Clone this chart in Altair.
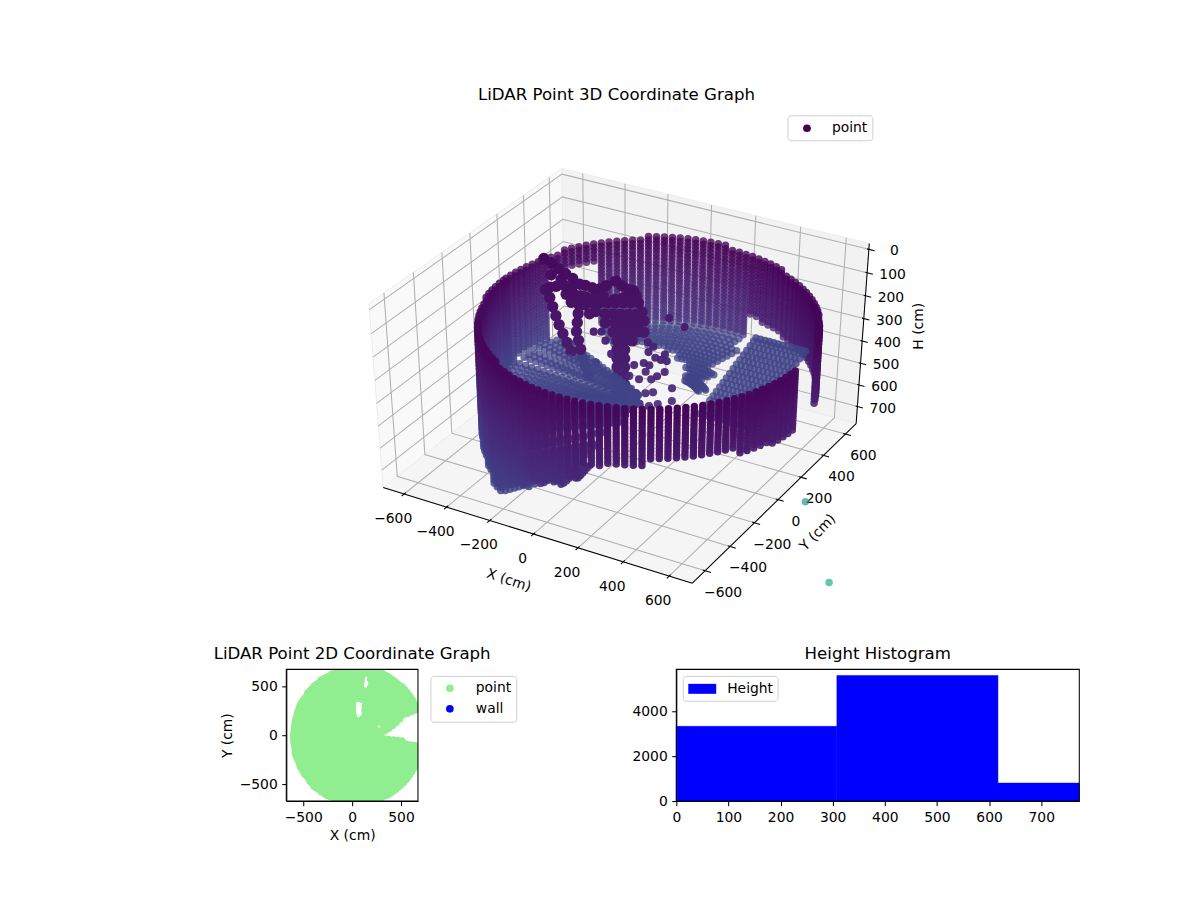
import altair as alt
import numpy as np
import pandas as pd

alt.data_transformers.disable_max_rows()

FONT = "DejaVu Sans"

# axis limits of the 3D box
x_limits = [-700, 700]
y_limits = [-700, 700]
h_limits = [-25, 780]
x_ticks = [-600, -400, -200, 0, 200, 400, 600]
y_ticks = [-600, -400, -200, 0, 200, 400, 600]
h_ticks = [0, 100, 200, 300, 400, 500, 600, 700]

# scan columns (degrees)
scan_azimuth = [
    -180, -177.2, -174.4, -171.6, -168.8, -166, -163.2, -160.4, -157.6, -154.8, -152, -149.2, -146.4, -143.6, -140.8, -138,
    -135.2, -132.4, -129.6, -126.8, -124, -121.2, -118.4, -115.6, -112.8, -110, -107.2, -104.4, -101.6, -98.8, -96, -93.2,
    -90.4, -87.6, -84.8, -82, -79.2, -76.4, -73.6, -70.8, -68, -65.2, -62.4, -59.6, -56.8, -54, -51.2, -48.4,
    -45.6, -42.8, -40, -37.2, -34.4, -31.6, -28.8, -26, -23.2, -20.4, -17.6, -14.8, -12, -9.2, -6.4, -3.6,
    -0.8, 2, 4.8, 7.6, 10.4, 13.2, 16, 18.8, 21.6, 24.4, 27.2, 30, 32.8, 35.6, 38.4, 41.2,
    44, 46.8, 49.6, 52.4, 55.2, 58, 60.8, 63.6, 66.4, 69.2, 72, 74.8, 77.6, 80.4, 83.2, 86,
    88.8, 91.6, 94.4, 97.2, 100, 102.8, 105.6, 108.4, 111.2, 114, 116.8, 119.6, 122.4, 125.2, 128, 130.8,
    133.6, 136.4, 139.2, 142, 144.8, 147.6, 150.4, 153.2, 156, 158.8, 161.6, 164.4, 167.2, 170, 172.8, 175.6, 178.4,
]
wall_rows = [120, 135, 150, 165, 180, 195, 210, 225, 240, 255, 270, 285, 300, 315, 330, 345, 360, 375, 390, 405, 420, 435, 450,
             465, 480, 495, 510, 525, 540, 555, 570, 585, 600, 615, 630, 645, 660, 675, 690, 705, 720, 735, 750, 765]
floor_radii = [630, 600, 570, 540, 510, 480, 450, 420, 390, 360, 330, 300, 270, 240, 210, 180, 150, 120, 90, 60]
apron_radii = [640, 620, 600, 580, 560, 540]

# the room: a round wall around this point
room_x = 100
room_y = 15
room_r = 660

# one row per sector of the ring, -1 means nothing was scanned there
sector_end = [-165, -150, -142, -135, -128, -120, -113, -105, -98, -90, -83, -75, -60, -45, -30, -15, -2, 16, 30, 45, 64, 75, 83, 90,
              100, 110, 120, 130, 137, 153, 158, 165, 175, 180]
wall_top = [150, 155, 158, 160, 163, 165, 168, 170, 172, 175, 177, 178, 180, 180, 180, 175, 170, -1, 160, 150, 140, 130, 127, 125,
            120, 120, 120, 125, 130, 135, 140, 145, 145, 150]
wall_bottom = [600, 620, 630, 660, 700, 740, 680, 630, 590, 560, 520, 440, 425, 400, 400, 420, 440, -1, 460, 426, 426, 417, 400, 500,
               500, 500, 500, 500, 500, 220, 200, 510, 520, 540]
apron = [0, 0, 1, 1, 1, 1, 1, 1, 1, 1, 1, 0, 0, 0, 0, 0, 0, 0, 0, 0, 0, 0, 0, 0,
         0, 0, 0, 0, 0, 0, 0, 0, 0, 0]
floor_height = [545, 555, 570, 590, 620, 650, 660, 650, 560, 500, -1, -1, -1, -1, -1, -1, -1, -1, -1, -1, 500, 500, 500, 500,
                500, 500, 500, 500, 500, -1, 510, 510, 520, 535]
floor_outer = [630, 630, 630, 630, 630, 630, 630, 630, 630, 630, -1, -1, -1, -1, -1, -1, -1, -1, -1, -1, 240, 330, 560, 630,
               630, 630, 630, 630, 630, -1, 630, 630, 630, 630]
floor_inner = [60, 60, 90, 120, 180, 240, 300, 360, 420, 480, -1, -1, -1, -1, -1, -1, -1, -1, -1, -1, 200, 210, 240, 300,
               360, 410, 450, 470, 470, -1, 100, 60, 60, 60]
shade_rate = [0.0005, 0.00045, 0.0004, 0.00037, 0.00034, 0.00032, 0.00032, 0.00032, 0.0003, 0.0003, 0.00027, 0.00025, 0.00024, 0.00024, 0.00024, 0.00024, 0.00024, 0, 0.00026, 0.0003, 0.0003, 0.0003, 0.0003, 0.0004,
              0.0004, 0.0004, 0.0004, 0.00042, 0.00045, 0.00045, 0.0005, 0.0005, 0.0005, 0.0005]
plan_radius = [600, 610, 620, 628, 640, 650, 660, 668, 675, 682, 690, 695, 705, 712, 715, 716, 716, 714, 715, 712, 703, 695, 690, 682,
               672, 660, 648, 635, 628, 615, 605, 600, 597, 596]
plan_rings = [20, 65, 110, 155, 200, 245, 290, 335, 380, 425, 470, 515, 560, 605, 650, 695]
notch_ring = [335, 380, 425, 470, 515, 560, 605, 650, 695, 720]
notch_low = [-5, -6, -6, -6, -6, -7, -7, -7, -7, -7]
notch_up = [6, 10, 13, 15, 17, 19, 20, 20, 20, 20]
hole_x = [68, 140, 275]
hole_y = [265, 540, 85]
hole_rx = [60, 44, 40]
hole_ry = [110, 70, 40]

# sloped patch on the right of the floor
ramp_along = [0, 0.06, 0.12, 0.18, 0.24, 0.3, 0.36, 0.42, 0.48, 0.54, 0.6, 0.66, 0.72, 0.78, 0.84, 0.9, 0.96, 1]
ramp_across = [0, 20, 40, 60, 80, 100, 120, 140, 160, 180, 200, 220]

# things standing in the room: position along a plane and height
object_t = [-359, -328, -300, -273, -246, -218, -250, -281, -312, -339, -355, -195, -168, -140, -113, -125, -156,
            -339, -328, -316, -304, -289, -273, -257,
            -215, -222, -226, -230, -234, -226, -218, -211, -199, -187,
            -74, -51, -27, -4, -16, 8, -47, -78,
            -172, -140, -109, -78, -47, -16, 16,
            -117, -86, -55, -23, 8, -156, 31,
            -117, -78, -47, -16, 16, 39,
            -86, -55, -23, 8, 39,
            -70, -39, -8,
            -70, -39, -70, -39, -70, -39, -70, -39, -70, -39, -70, -39, -70, -39, -70, -39,
            -331, -292, -253, -273, -234, -195, -253, -200, -156, -180]
object_h = [15, 35, 60, 80, 100, 125, 140, 130, 135, 140, 150, 130, 140, 145, 130, 175, 175,
            185, 225, 265, 305, 345, 385, 425,
            175, 215, 255, 295, 335, 375, 415, 455, 495, 535,
            110, 130, 145, 150, 180, 175, 185, 190,
            205, 205, 205, 205, 205, 205, 205,
            255, 255, 255, 255, 255, 245, 245,
            295, 295, 295, 295, 295, 285,
            335, 335, 335, 335, 335,
            375, 375, 375,
            415, 415, 455, 455, 495, 495, 535, 535, 575, 575, 615, 615, 655, 655, 695, 695,
            85, 105, 160, 170, 175, 180, 205, 215, 205, 255]
stray_t = [140, 203, 55, 78, 58, 86, 39, 62, 109, 125, 133, 0, -20, 20, 47, 70, 94, 125, 156, 156, 78, 47, 8, 23, 62, 98,
           -156, -164, -133, -117, -94]
stray_h = [270, 310, 380, 400, 425, 450, 475, 485, 460, 435, 465, 485, 535, 550, 515, 550, 535, 515, 590, 650, 610, 615,
           615, 665, 675, 665, 475, 335, 335, 375, 435]

# far away returns
far_x = [413, 804, 1146]
far_y = [277, 32, -446]
far_h = [775, 775, 775]
far_shade = [0.42, 0.52, 0.6]

# histogram
bin_start = [0, 308, 617]
bin_end = [308, 617, 773]
bin_count = [3330, 5600, 800]

# where the box corners sit on the page, to fit the projection
anchor_xyh = [(-700, -700, 780), (700, -700, 780), (700, 700, 780), (-700, 700, -25), (700, 700, -25), (-700, -700, -25)]
anchor_px = [378, 692, 857, 561, 866, 369]
anchor_py = [486, 587, 418, 168, 242, 308]


def view_coords(x, y, h):
    box = np.array([1.307, 1.307, 0.98])
    p = np.stack([
        (np.asarray(x, float) - x_limits[0]) / (x_limits[1] - x_limits[0]) * box[0],
        (np.asarray(y, float) - y_limits[0]) / (y_limits[1] - y_limits[0]) * box[1],
        (h_limits[1] - np.asarray(h, float)) / (h_limits[1] - h_limits[0]) * box[2],
    ], axis=-1)
    el, az = np.radians(35), np.radians(-60)
    n = np.array([np.cos(el) * np.cos(az), np.cos(el) * np.sin(az), np.sin(el)])
    eye = box / 2 + 10 * n
    u = np.cross([0, 0, 1], n)
    u = u / np.linalg.norm(u)
    v = np.cross(n, u)
    d = p - eye
    w = -(d @ n)
    return d @ u / w, d @ v / w, w


ax_u, ax_v, _ = view_coords(*zip(*anchor_xyh))
fit_x = np.polyfit(ax_u, anchor_px, 1)
fit_y = np.polyfit(ax_v, anchor_py, 1)


def project(x, y, h):
    u, v, w = view_coords(x, y, h)
    return np.polyval(fit_x, u), np.polyval(fit_y, v), w


def frame(xs, ys, hs, **cols):
    px, py, w = project(xs, ys, hs)
    return pd.DataFrame({"px": px, "py": py, "w": w, **cols})


# collect the scan
xs, ys, hs, shade, alpha_add, dot = [], [], [], [], [], []
plan_x, plan_y = [], []


def add(x, y, h, sh, extra=0, size=56):
    xs.append(x)
    ys.append(y)
    hs.append(h)
    shade.append(sh)
    alpha_add.append(extra)
    dot.append(size)


for az in scan_azimuth:
    k = next(i for i, e in enumerate(sector_end) if az <= e)
    a = np.radians(az)
    c, s = np.cos(a), np.sin(a)
    if wall_top[k] > 0:
        for h in wall_rows:
            if wall_top[k] <= h <= wall_bottom[k]:
                add(room_x + room_r * c, room_y + room_r * s, h, (h - 120) * shade_rate[k])
    if apron[k]:
        for r in apron_radii:
            add(room_x + r * c, room_y + r * s, wall_bottom[k], (wall_bottom[k] - 120) * shade_rate[k])
    if floor_outer[k] > 0:
        for r in floor_radii:
            if floor_inner[k] <= r <= floor_outer[k]:
                add(room_x + r * c, room_y + r * s, floor_height[k], 0.2)
    # the plan view has its own outline
    for r in plan_rings + [plan_radius[k]]:
        if r > plan_radius[k]:
            continue
        j = next((i for i, n in enumerate(notch_ring) if r <= n), None)
        if r >= notch_ring[0] and j is not None and notch_low[j] < az < notch_up[j]:
            continue
        px_, py_ = r * c, r * s
        if any(((px_ - hx) / rx) ** 2 + ((py_ - hy) / ry) ** 2 < 1
               for hx, hy, rx, ry in zip(hole_x, hole_y, hole_rx, hole_ry)):
            continue
        plan_x.append(px_)
        plan_y.append(py_)

for a_ in ramp_along:
    for c_ in ramp_across:
        add(168 + 202 * a_ + c_, 328 + 79 * a_, 702 - 362 * a_, 0.2)

for t, h in zip(object_t, object_h):
    add(t * 0.877 - 134, t * 0.48 + 314, h + 68, 0.02 + h * 0.00012, 0.3, 130)
for t, h in zip(stray_t, stray_h):
    add(t * 0.877 - 134, t * 0.48 + 314, h + 68, 0.04 + h * 0.00012, 0.2, 66)
for x, y, h, sh in zip(far_x, far_y, far_h, far_shade):
    add(x, y, h, sh)

points = frame(xs, ys, hs, shade=shade, extra=alpha_add, dot=dot)
near, far = points["w"].min(), points["w"].max()
points["alpha"] = (0.7 + 0.3 * (far - points["w"]) / (far - near) + points["extra"]).clip(upper=1)
points.loc[points["shade"] > 0.3, "alpha"] = 0.68
points = points.sort_values("w", ascending=False)

TOP_H = 638
X_PAGE = alt.X("px:Q", scale=alt.Scale(domain=[8, 1192]), axis=None)
Y_PAGE = alt.Y("py:Q", scale=alt.Scale(domain=[8 + TOP_H, 8]), axis=None)

xa, xb = x_limits
ya, yb = y_limits
top, bot = h_limits[0], h_limits[1]

panes = [
    ([xa, xa, xa, xa], [ya, yb, yb, ya], [bot, bot, top, top], "#f9f9f9"),
    ([xa, xb, xb, xa], [yb, yb, yb, yb], [bot, bot, top, top], "#f2f2f2"),
    ([xa, xb, xb, xa], [ya, ya, yb, yb], [bot, bot, bot, bot], "#f5f5f5"),
]
layers = []
for pane_x, pane_y, pane_h, pane_fill in panes:
    d = frame(pane_x, pane_y, pane_h, i=[0, 1, 2, 3])
    layers.append(alt.Chart(d).mark_line(interpolate="linear-closed", fill=pane_fill, stroke="#ececec", strokeWidth=1)
                  .encode(x=X_PAGE, y=Y_PAGE, order="i:Q"))

grid_rows = []
for t in x_ticks:
    grid_rows.append(frame([t, t, t], [ya, yb, yb], [bot, bot, top], line=f"x{t}", i=[0, 1, 2]))
for t in y_ticks:
    grid_rows.append(frame([xb, xa, xa], [t, t, t], [bot, bot, top], line=f"y{t}", i=[0, 1, 2]))
for t in h_ticks:
    grid_rows.append(frame([xa, xa, xb], [ya, yb, yb], [t, t, t], line=f"h{t}", i=[0, 1, 2]))
grid = pd.concat(grid_rows)
layers.append(alt.Chart(grid).mark_line(color="#b0b0b0", strokeWidth=1.05)
              .encode(x=X_PAGE, y=Y_PAGE, detail="line:N", order="i:Q"))

axis_rows = [
    frame([xa, xb], [ya, ya], [bot, bot], line="x", i=[0, 1]),
    frame([xb, xb], [ya, yb], [bot, bot], line="y", i=[0, 1]),
    frame([xb, xb], [yb, yb], [bot, top], line="h", i=[0, 1]),
]
for t in x_ticks:
    axis_rows.append(frame([t, t], [ya + 12, ya - 18], [bot, bot], line=f"tx{t}", i=[0, 1]))
for t in y_ticks:
    axis_rows.append(frame([xb - 10, xb + 25], [t, t], [bot, bot], line=f"ty{t}", i=[0, 1]))
for t in h_ticks:
    axis_rows.append(frame([xb - 8, xb + 25], [yb, yb], [t, t], line=f"th{t}", i=[0, 1]))
layers.append(alt.Chart(pd.concat(axis_rows)).mark_line(color="black", strokeWidth=1.05)
              .encode(x=X_PAGE, y=Y_PAGE, detail="line:N", order="i:Q"))


def tick_text(t):
    return str(t).replace("-", "\u2212")


x_lab = frame(x_ticks, [ya] * len(x_ticks), [bot] * len(x_ticks), label=[tick_text(t) for t in x_ticks])
y_lab = frame([xb] * len(y_ticks), y_ticks, [bot] * len(y_ticks), label=[tick_text(t) for t in y_ticks])
h_lab = frame([xb] * len(h_ticks), [yb] * len(h_ticks), h_ticks, label=[tick_text(t) for t in h_ticks])
for d, dx, dy in [(x_lab, -11, 25), (y_lab, 18, 22), (h_lab, 25.5, 2)]:
    layers.append(alt.Chart(d).mark_text(font=FONT, fontSize=13.9, color="black", dx=dx, dy=dy)
                  .encode(x=X_PAGE, y=Y_PAGE, text="label:N"))

layers.append(alt.Chart(points).mark_circle(strokeWidth=0).encode(
    x=X_PAGE, y=Y_PAGE,
    color=alt.Color("shade:Q", scale=alt.Scale(scheme="viridis", domain=[0, 1]), legend=None),
    opacity=alt.Opacity("alpha:Q", scale=None, legend=None),
    size=alt.Size("dot:Q", scale=None, legend=None),
))

titles = pd.DataFrame({
    "label": ["X (cm)", "Y (cm)", "H (cm)"],
    "px": [507, 817, 918],
    "py": [581, 533, 326],
    "angle": [18, 314, 270],
})
for _, row in titles.iterrows():
    layers.append(alt.Chart(titles[titles["label"] == row["label"]]).mark_text(font=FONT, fontSize=13.9, color="black", angle=row["angle"])
                  .encode(x=X_PAGE, y=Y_PAGE, text="label:N"))
main_title = pd.DataFrame({"label": ["LiDAR Point 3D Coordinate Graph"], "px": [615], "py": [94]})
layers.append(alt.Chart(main_title).mark_text(font=FONT, fontSize=16.67, color="black").encode(x=X_PAGE, y=Y_PAGE, text="label:N"))


def legend_box(x0, y0, x1, y1, rows, swatch="circle"):
    # rows: (label, colour, swatch x, text x, row y), all panel pixels
    parts = [alt.Chart(pd.DataFrame({"a": [0]})).mark_rect(fill="white", stroke="#cccccc", strokeWidth=1, cornerRadius=3, opacity=0.9)
             .encode(x=alt.value(x0), x2=alt.value(x1), y=alt.value(y0), y2=alt.value(y1))]
    for label, colour, row_x, row_tx, row_y in rows:
        one = pd.DataFrame({"label": [label]})
        if swatch == "circle":
            parts.append(alt.Chart(one).mark_circle(size=60, color=colour, opacity=1).encode(x=alt.value(row_x), y=alt.value(row_y)))
        else:
            parts.append(alt.Chart(one).mark_rect(color=colour)
                         .encode(x=alt.value(row_x - 14), x2=alt.value(row_x + 14), y=alt.value(row_y - 5), y2=alt.value(row_y + 5)))
        parts.append(alt.Chart(one).mark_text(font=FONT, fontSize=13.9, color="black", align="left")
                     .encode(x=alt.value(row_tx), y=alt.value(row_y), text="label:N"))
    return parts


def border(w, h):
    return alt.Chart(pd.DataFrame({"a": [0]})).mark_rect(fill=None, stroke="black", strokeWidth=1.05).encode(
        x=alt.value(0), x2=alt.value(w), y=alt.value(0), y2=alt.value(h))


layers += legend_box(787 - 8, 115 - 8, 872 - 8, 140 - 8, [("point", "#440154", 806 - 8, 831 - 8, 127.5 - 8)])
top_chart = alt.layer(*layers).properties(width=1184, height=TOP_H)

plan = pd.DataFrame({"x": plan_x, "y": plan_y})
title_2d = alt.Title("LiDAR Point 2D Coordinate Graph", font=FONT, fontSize=16.67, fontWeight="normal", offset=6, color="black")
plan_chart = alt.layer(
    alt.Chart(plan).mark_circle(size=50, color="#90ee90", opacity=1, clip=True).encode(
        x=alt.X("x:Q", title="X (cm)", scale=alt.Scale(domain=[-673, 673]), axis=alt.Axis(values=[-500, 0, 500])),
        y=alt.Y("y:Q", title="Y (cm)", scale=alt.Scale(domain=[-673, 673]), axis=alt.Axis(values=[-500, 0, 500])),
    ),
    border(132, 132),
    *legend_box(145, 7, 231, 53, [("point", "lightgreen", 164, 190, 19), ("wall", "blue", 164, 190, 39.5)]),
).properties(width=132, height=132, title=title_2d)

bins = pd.DataFrame({"start": bin_start, "end": bin_end, "count": bin_count, "base": [0, 0, 0]})
title_hist = alt.Title("Height Histogram", font=FONT, fontSize=16.67, fontWeight="normal", offset=6, color="black")
hist_chart = alt.layer(
    alt.Chart(bins).mark_rect(color="blue", stroke="blue", strokeWidth=0.5).encode(
        x=alt.X("start:Q", title=None, scale=alt.Scale(domain=[0, 773]), axis=alt.Axis(values=[0, 100, 200, 300, 400, 500, 600, 700])),
        x2="end:Q",
        y=alt.Y("count:Q", title=None, scale=alt.Scale(domain=[0, 5870]), axis=alt.Axis(values=[0, 2000, 4000], format="d")),
        y2="base:Q",
    ),
    border(404, 132),
    *legend_box(7, 7, 102, 32, [("Height", "blue", 26, 51, 19.5)], swatch="rect"),
).properties(width=404, height=132, title=title_hist)


def spacer(w):
    return alt.Chart(pd.DataFrame({"a": [0]})).mark_point(opacity=0).encode(x=alt.value(0), y=alt.value(0)).properties(width=w, height=132)


bottom = alt.hconcat(spacer(276), plan_chart, spacer(259), hist_chart, spacing=0, bounds="flush")

chart = alt.vconcat(top_chart, bottom, spacing=0, padding=0).configure_view(stroke=None).configure_axis(
    grid=False, labelFont=FONT, titleFont=FONT, labelFontSize=13.9, titleFontSize=13.9, labelColor="black", titleColor="black",
    titleFontWeight="normal", domainColor="black", tickColor="black", domainWidth=1.05, tickWidth=1.05, tickSize=4.6,
    labelPadding=4.5, titlePadding=5, labelFlush=False, zindex=1,
)
chart.save("out.html", embed_options={"renderer": "svg", "actions": False})
